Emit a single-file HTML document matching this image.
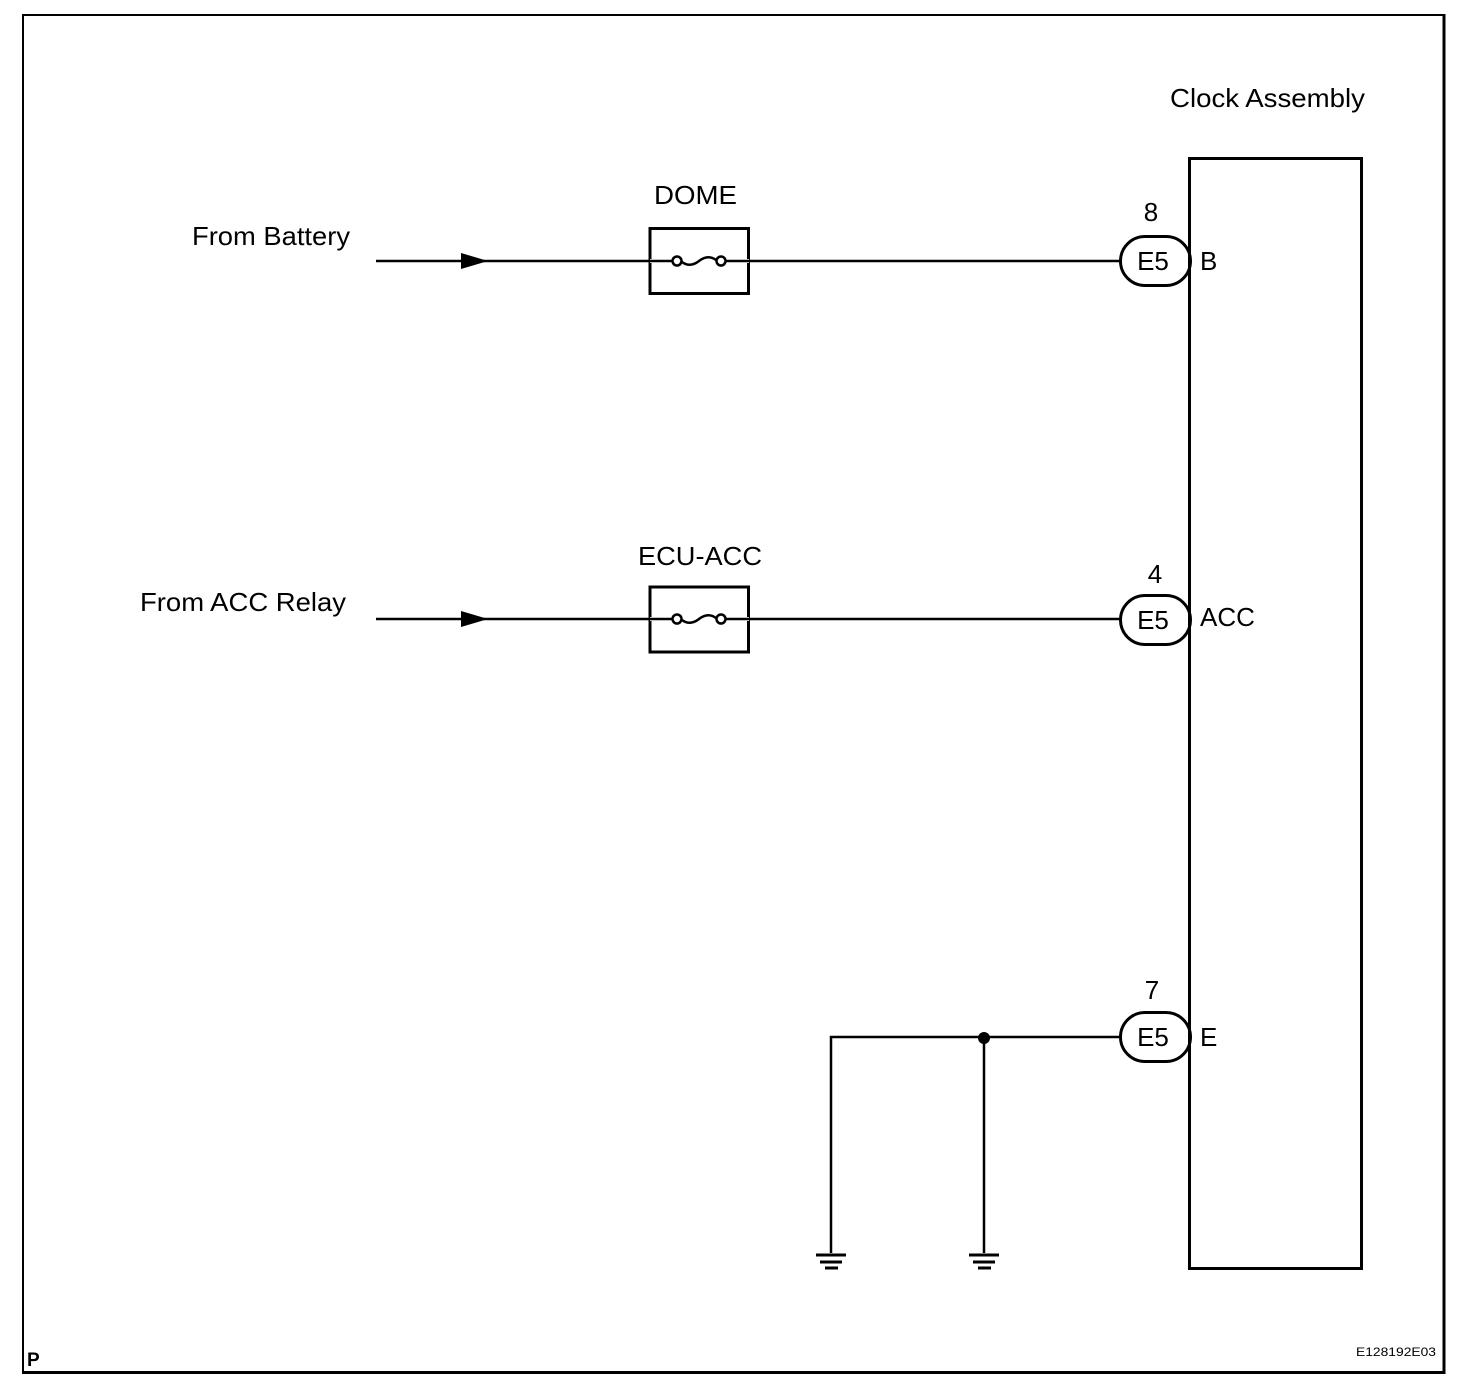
<!DOCTYPE html>
<html><head><meta charset="utf-8"><style>
html,body{margin:0;padding:0;background:#fff}
svg{display:block}
text{font-family:"Liberation Sans",Arial,sans-serif;fill:#000}
</style></head><body>
<svg width="1472" height="1388" viewBox="0 0 1472 1388" xmlns="http://www.w3.org/2000/svg">
<rect width="1472" height="1388" fill="#fff"/>
<path d="M23 1373 V15 H1443" fill="none" stroke="#000" stroke-width="2"/>
<path d="M22 1372.5 H1444 V14" fill="none" stroke="#000" stroke-width="3"/>
<rect x="1189.5" y="158.5" width="172" height="1110" fill="none" stroke="#000" stroke-width="3"/>
<text x="1170" y="107" font-size="26" textLength="195" lengthAdjust="spacingAndGlyphs">Clock Assembly</text>

<text x="192" y="245" font-size="26" textLength="158" lengthAdjust="spacingAndGlyphs">From Battery</text>
<line x1="376" y1="261" x2="1120" y2="261" stroke="#000" stroke-width="2.5"/>
<polygon points="461,253 461,269 488,261" fill="#000"/>
<rect x="650" y="228.5" width="98.5" height="65" fill="none" stroke="#000" stroke-width="3"/>
<line x1="650" y1="261" x2="749" y2="261" stroke="#fff" stroke-width="4"/>
<line x1="650" y1="261" x2="672" y2="261" stroke="#000" stroke-width="2.5"/>
<line x1="726" y1="261" x2="749" y2="261" stroke="#000" stroke-width="2.5"/>
<circle cx="677" cy="261" r="4.5" fill="#fff" stroke="#000" stroke-width="2.5"/>
<circle cx="721" cy="261" r="4.5" fill="#fff" stroke="#000" stroke-width="2.5"/>
<path d="M682 262 Q690 268 699 261 Q708 254 716 260" fill="none" stroke="#000" stroke-width="2.5"/>
<text x="654" y="204" font-size="26" textLength="83" lengthAdjust="spacingAndGlyphs">DOME</text>
<rect x="1120.5" y="236.5" width="70" height="49" rx="24.5" fill="#fff" stroke="#000" stroke-width="3"/>
<line x1="1189.5" y1="230" x2="1189.5" y2="292" stroke="#000" stroke-width="3"/>
<text x="1153" y="270" font-size="26" text-anchor="middle">E5</text>
<text x="1151" y="221" font-size="26" text-anchor="middle">8</text>
<text x="1200" y="270" font-size="26">B</text>

<text x="140" y="611" font-size="26" textLength="206" lengthAdjust="spacingAndGlyphs">From ACC Relay</text>
<line x1="376" y1="619" x2="1120" y2="619" stroke="#000" stroke-width="2.5"/>
<polygon points="461,611 461,627 488,619" fill="#000"/>
<rect x="650" y="587" width="98.5" height="65" fill="none" stroke="#000" stroke-width="3"/>
<line x1="650" y1="619" x2="749" y2="619" stroke="#fff" stroke-width="4"/>
<line x1="650" y1="619" x2="672" y2="619" stroke="#000" stroke-width="2.5"/>
<line x1="726" y1="619" x2="749" y2="619" stroke="#000" stroke-width="2.5"/>
<circle cx="677" cy="619" r="4.5" fill="#fff" stroke="#000" stroke-width="2.5"/>
<circle cx="721" cy="619" r="4.5" fill="#fff" stroke="#000" stroke-width="2.5"/>
<path d="M682 620 Q690 626 699 619 Q708 612 716 618" fill="none" stroke="#000" stroke-width="2.5"/>
<text x="638" y="565" font-size="26" textLength="124" lengthAdjust="spacingAndGlyphs">ECU-ACC</text>
<rect x="1120.5" y="595.5" width="70" height="49" rx="24.5" fill="#fff" stroke="#000" stroke-width="3"/>
<line x1="1189.5" y1="588" x2="1189.5" y2="652" stroke="#000" stroke-width="3"/>
<text x="1153" y="629" font-size="26" text-anchor="middle">E5</text>
<text x="1155" y="583" font-size="26" text-anchor="middle">4</text>
<text x="1200" y="626" font-size="26">ACC</text>

<path d="M1120 1037 H831 V1253" fill="none" stroke="#000" stroke-width="2.5"/>
<line x1="984" y1="1037" x2="984" y2="1253" stroke="#000" stroke-width="2.5"/>
<circle cx="984" cy="1038" r="6" fill="#000"/>
<rect x="1120.5" y="1012.5" width="70" height="49" rx="24.5" fill="#fff" stroke="#000" stroke-width="3"/>
<line x1="1189.5" y1="1005" x2="1189.5" y2="1070" stroke="#000" stroke-width="3"/>
<text x="1153" y="1046" font-size="26" text-anchor="middle">E5</text>
<text x="1152" y="999" font-size="26" text-anchor="middle">7</text>
<text x="1200" y="1046" font-size="26">E</text>
<g stroke="#000" stroke-width="3">
<line x1="816" y1="1255" x2="846" y2="1255"/>
<line x1="820" y1="1262" x2="842" y2="1262"/>
<line x1="825" y1="1268" x2="838" y2="1268"/>
<line x1="969" y1="1255" x2="999" y2="1255"/>
<line x1="973" y1="1262" x2="995" y2="1262"/>
<line x1="978" y1="1268" x2="991" y2="1268"/>
</g>

<text x="27" y="1366" font-size="19" font-weight="bold">P</text>
<text x="1436" y="1356" font-size="12" text-anchor="end" textLength="80" lengthAdjust="spacingAndGlyphs">E128192E03</text>
</svg>
</body></html>
